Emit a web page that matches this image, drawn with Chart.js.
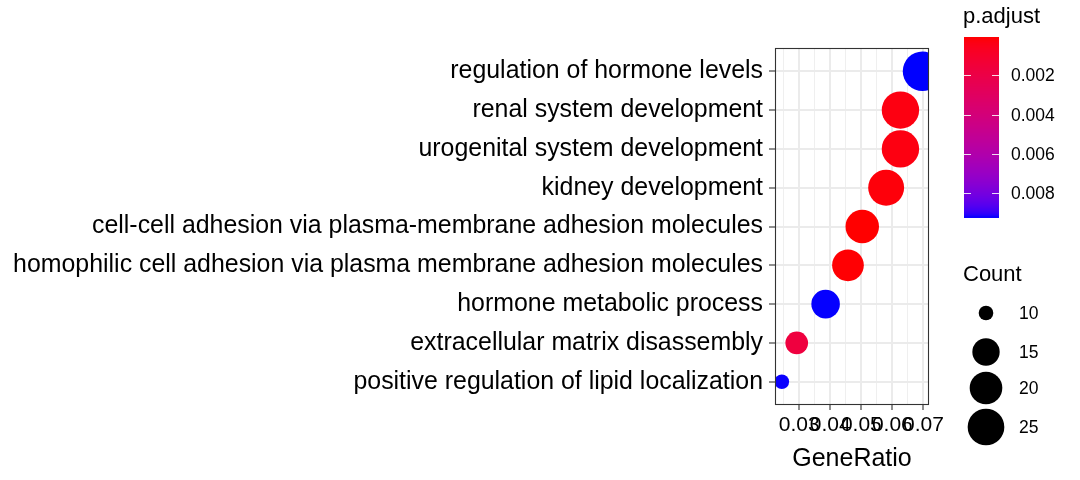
<!DOCTYPE html>
<html>
<head>
<meta charset="utf-8">
<script src="https://cdn.jsdelivr.net/npm/chart.js@4.4.1/dist/chart.umd.min.js"></script>
<style>
  html, body { margin: 0; padding: 0; background: #ffffff; }
  #wrap { width: 1080px; height: 480px; }
</style>
</head>
<body>
<div id="wrap"><canvas id="c" width="1080" height="480"></canvas></div>
<script>
// ---- data ----
const categories = [
  "regulation of hormone levels",
  "renal system development",
  "urogenital system development",
  "kidney development",
  "cell-cell adhesion via plasma-membrane adhesion molecules",
  "homophilic cell adhesion via plasma membrane adhesion molecules",
  "hormone metabolic process",
  "extracellular matrix disassembly",
  "positive regulation of lipid localization"
];
const geneRatio = [0.0697, 0.0626, 0.0626, 0.0580, 0.0503, 0.0457, 0.0385, 0.0292, 0.0244];
const counts    = [29, 26, 26, 24, 21, 19, 16, 12, 10];
const pAdjust   = [0.0092, 0.0003, 0.0003, 0.0002, 0.00005, 0.0001, 0.00919, 0.0017, 0.00918];
const xMajorTicks = [0.03, 0.04, 0.05, 0.06, 0.07];
const xMinorTicks = [0.025, 0.035, 0.045, 0.055, 0.065];
const pTicks = [0.002, 0.004, 0.006, 0.008];
const countBreaks = [10, 15, 20, 25];

// ---- scales (styling helpers) ----
const FONT = "'Liberation Sans', Arial, Helvetica, sans-serif";
const cMin = Math.min(...counts), cMax = Math.max(...counts);
function radiusFor(c) { return 7.3 + 2.85 * Math.sqrt(Math.max(c - cMin, 0)); }

function toLin(c) { c /= 255; return c <= 0.04045 ? c / 12.92 : Math.pow((c + 0.055) / 1.055, 2.4); }
function fromLin(c) { const v = c <= 0.0031308 ? 12.92 * c : 1.055 * Math.pow(c, 1 / 2.4) - 0.055; return Math.round(Math.max(0, Math.min(1, v)) * 255); }
function rgbToLab(r, g, b) {
  const R = toLin(r), G = toLin(g), B = toLin(b);
  let X = (0.4124 * R + 0.3576 * G + 0.1805 * B) / 0.95047;
  let Y = (0.2126 * R + 0.7152 * G + 0.0722 * B);
  let Z = (0.0193 * R + 0.1192 * G + 0.9505 * B) / 1.08883;
  const f = t => t > 0.008856 ? Math.cbrt(t) : 7.787 * t + 16 / 116;
  const fx = f(X), fy = f(Y), fz = f(Z);
  return [116 * fy - 16, 500 * (fx - fy), 200 * (fy - fz)];
}
function labToRgb(L, a, b) {
  const fy = (L + 16) / 116, fx = fy + a / 500, fz = fy - b / 200;
  const fi = t => (t * t * t > 0.008856 ? t * t * t : (t - 16 / 116) / 7.787);
  const X = fi(fx) * 0.95047, Y = fi(fy), Z = fi(fz) * 1.08883;
  const R = 3.2406 * X - 1.5372 * Y - 0.4986 * Z;
  const G = -0.9689 * X + 1.8758 * Y + 0.0415 * Z;
  const B = 0.0557 * X - 0.2040 * Y + 1.0570 * Z;
  return [fromLin(R), fromLin(G), fromLin(B)];
}
const labLow = rgbToLab(255, 0, 0), labHigh = rgbToLab(0, 0, 255);
const pMin = Math.min(...pAdjust), pMax = Math.max(...pAdjust);
function colorFor(p) {
  const t = Math.max(0, Math.min(1, (p - pMin) / (pMax - pMin)));
  const L = labLow[0] + (labHigh[0] - labLow[0]) * t;
  const A = labLow[1] + (labHigh[1] - labLow[1]) * t;
  const B = labLow[2] + (labHigh[2] - labLow[2]) * t;
  const c = labToRgb(L, A, B);
  return `rgb(${c[0]},${c[1]},${c[2]})`;
}

const points = categories.map((c, i) => ({ x: geneRatio[i], y: i, r: radiusFor(counts[i]) }));
const colors = pAdjust.map(colorFor);
const allXTicks = [...xMajorTicks, ...xMinorTicks].sort((a, b) => a - b);
const isMajor = v => xMajorTicks.some(m => Math.abs(m - v) < 1e-9);

// ---- frame + legends plugin ----
const decor = {
  id: 'decor',
  afterDraw(chart) {
    const ctx = chart.ctx, a = chart.chartArea;
    ctx.save();
    ctx.strokeStyle = '#333333';
    ctx.lineWidth = 1.1;
    ctx.strokeRect(a.left + 0.5, a.top + 0.5, a.right - a.left - 1, a.bottom - a.top - 1);

    // p.adjust colourbar
    const bx = 964, bw = 35, bTop = 37, bBot = 217;
    ctx.fillStyle = '#000';
    ctx.font = `22px ${FONT}`;
    ctx.textBaseline = 'alphabetic';
    ctx.textAlign = 'left';
    ctx.fillText('p.adjust', 963, 23);
    const nbin = 180;
    for (let k = 0; k < nbin; k++) {
      const v = pMin + (pMax - pMin) * (k + 0.5) / nbin;
      ctx.fillStyle = colorFor(v);
      const y0 = bTop + (bBot - bTop) * k / nbin;
      ctx.fillRect(bx, Math.floor(y0), bw, Math.ceil((bBot - bTop) / nbin) + 1);
    }
    const yOf = v => bTop + (v - pMin) / (pMax - pMin) * (bBot - bTop);
    ctx.strokeStyle = 'rgba(255,255,255,0.85)';
    ctx.lineWidth = 1;
    ctx.font = `17.5px ${FONT}`;
    ctx.textBaseline = 'middle';
    pTicks.forEach(t => {
      const y = Math.round(yOf(t)) + 0.5;
      ctx.beginPath();
      ctx.moveTo(bx, y); ctx.lineTo(bx + 7, y);
      ctx.moveTo(bx + bw - 7, y); ctx.lineTo(bx + bw, y);
      ctx.stroke();
      ctx.fillStyle = '#000';
      ctx.fillText(t.toFixed(3), 1011, y + 1);
    });

    // Count size legend
    ctx.fillStyle = '#000';
    ctx.font = `22px ${FONT}`;
    ctx.textBaseline = 'alphabetic';
    ctx.fillText('Count', 963, 281);
    const keyY = [313, 352, 388, 427];
    countBreaks.forEach((c, i) => {
      ctx.beginPath();
      ctx.arc(986, keyY[i], radiusFor(c), 0, Math.PI * 2);
      ctx.fillStyle = '#000';
      ctx.fill();
      ctx.font = `17.5px ${FONT}`;
      ctx.textBaseline = 'middle';
      ctx.fillText(String(c), 1019, keyY[i] + 1);
    });
    ctx.restore();
  }
};

new Chart(document.getElementById('c'), {
  type: 'bubble',
  data: {
    datasets: [{
      data: points,
      backgroundColor: colors,
      borderWidth: 0,
      hoverBorderWidth: 0,
      clip: 0
    }]
  },
  options: {
    responsive: false,
    devicePixelRatio: 1,
    animation: false,
    events: [],
    layout: { padding: { top: 48, right: 151, bottom: 0, left: 0 } },
    plugins: { legend: { display: false }, tooltip: { enabled: false } },
    scales: {
      x: {
        type: 'linear',
        min: 0.0222,
        max: 0.0718,
        afterBuildTicks: s => { s.ticks = allXTicks.map(v => ({ value: v })); },
        afterFit: s => { s.height = 75; },
        border: { display: false },
        grid: {
          color: ctx => (ctx.tick && isMajor(ctx.tick.value)) ? '#EBEBEB' : '#EFEFEF',
          lineWidth: ctx => (ctx.tick && isMajor(ctx.tick.value)) ? 2 : 1,
          tickColor: ctx => (ctx.tick && isMajor(ctx.tick.value)) ? '#333333' : 'rgba(0,0,0,0)',
          tickLength: 5,
          tickWidth: 1.1
        },
        ticks: {
          autoSkip: false,
          maxRotation: 0,
          minRotation: 0,
          padding: 3,
          color: '#000',
          font: { family: FONT, size: 21 },
          callback: v => isMajor(v) ? v.toFixed(2) : ''
        },
        title: {
          display: true,
          text: 'GeneRatio',
          color: '#000',
          font: { family: FONT, size: 25 },
          padding: { top: 0, bottom: 6 }
        }
      },
      y: {
        type: 'linear',
        min: -0.6,
        max: categories.length - 1 + 0.6,
        reverse: true,
        afterBuildTicks: s => { s.ticks = categories.map((_, i) => ({ value: i })); },
        afterFit: s => { s.width = 775; },
        border: { display: false },
        grid: {
          color: '#EBEBEB',
          lineWidth: 2,
          tickColor: '#333333',
          tickLength: 6,
          tickWidth: 1.1
        },
        ticks: {
          autoSkip: false,
          padding: 6,
          color: '#000',
          font: { family: FONT, size: 24.9 },
          callback: v => categories[v]
        }
      }
    }
  },
  plugins: [decor]
});
</script>
</body>
</html>
